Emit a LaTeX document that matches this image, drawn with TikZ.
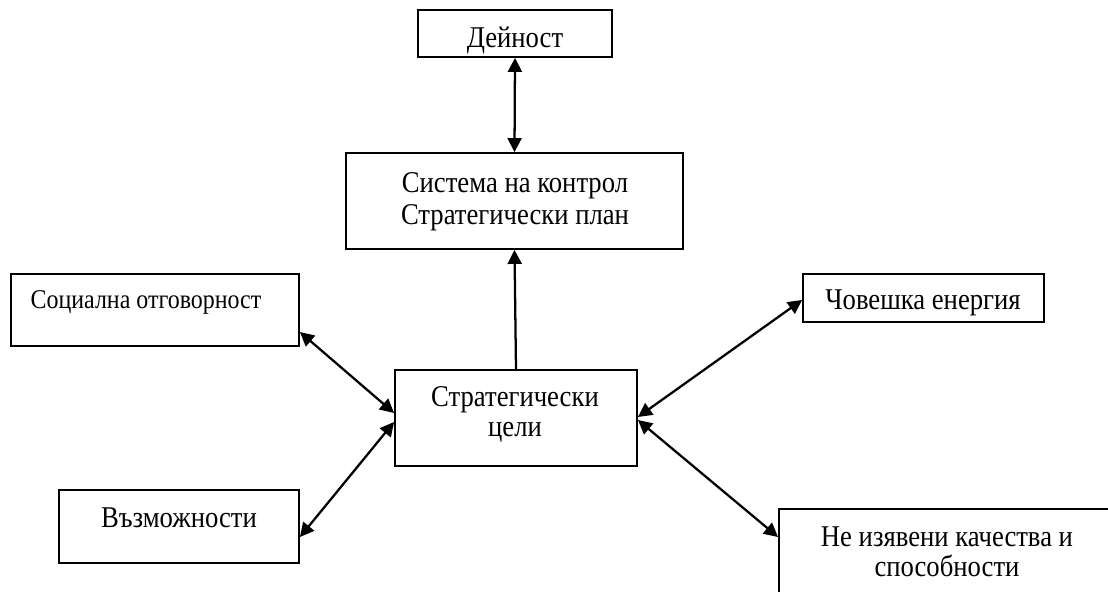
\documentclass[tikz,border=0pt]{standalone}
\usepackage{fontspec}
\setmainfont{Liberation Serif}
\newfontfamily\tnr[FakeStretch=0.885]{Liberation Serif}
\usetikzlibrary{arrows.meta,fit,calc}
\begin{document}
\begin{tikzpicture}[x=0.75pt,y=-0.75pt,
 box/.style={draw, line width=1.4pt, inner sep=0pt},
 lbl/.style={font=\tnr\fontsize{22.6}{24}\selectfont, inner sep=0pt, align=center},
 conn/.style={line width=1.7pt, -{Triangle[length=10.5pt,width=10.5pt]}},
 dconn/.style={line width=1.7pt, {Triangle[length=10.5pt,width=10.5pt]}-{Triangle[length=10.5pt,width=10.5pt]}}]
\useasboundingbox (0,0) rectangle (1108,592);
% boxes
\node[box, fit={(418,10) (612,57)}] (dej) {};
\node[box, fit={(346,153) (683,249)}] (sys) {};
\node[box, fit={(395,370) (637,466)}] (cel) {};
\node[box, fit={(11,274) (299,346)}] (soc) {};
\node[box, fit={(59,490) (299,563)}] (voz) {};
\node[box, fit={(803,274) (1044,322)}] (chov) {};
\node[box, fit={(779,509) (1130,660)}] (ne) {};
% labels
\node[lbl, anchor=base] (tdej) at (515,48) {Дейност};
\node[lbl, font=\tnr\fontsize{22.6}{24}\selectfont] (tsys) at (515,202) {Система на контрол\\Стратегически план};
\node[lbl, font=\tnr\fontsize{22.6}{22.5}\selectfont] (tcel) at (515,414.5) {Стратегически\\цели};
\node[lbl, anchor=base, font=\tnr\fontsize{20.3}{22}\selectfont] (tsoc) at (146,308) {Социална отговорност};
\node[lbl, anchor=base] (tvoz) at (179,527) {Възможности};
\node[lbl, anchor=base] (tchov) at (923,309) {Човешка енергия};
\node[lbl, font=\tnr\fontsize{22.6}{22.5}\selectfont] (tne) at (947,552) {Не изявени качества и\\способности};
% connectors
\draw[dconn] (dej.south) -- (sys.north);
\draw[conn] (cel.north) -- (sys.south);
\draw[dconn] ([yshift=-16.5pt]soc.east) -- ([yshift=3.75pt]cel.west);
\draw[dconn] ([yshift=-3pt]cel.west) -- ([yshift=-7.9pt]voz.east);
\draw[dconn] ([yshift=0.75pt]cel.east) -- ([yshift=-1.5pt]chov.west);
\draw[dconn] ([yshift=-1.5pt]cel.east) -- ([yshift=35.6pt]ne.west);
\end{tikzpicture}
\end{document}
